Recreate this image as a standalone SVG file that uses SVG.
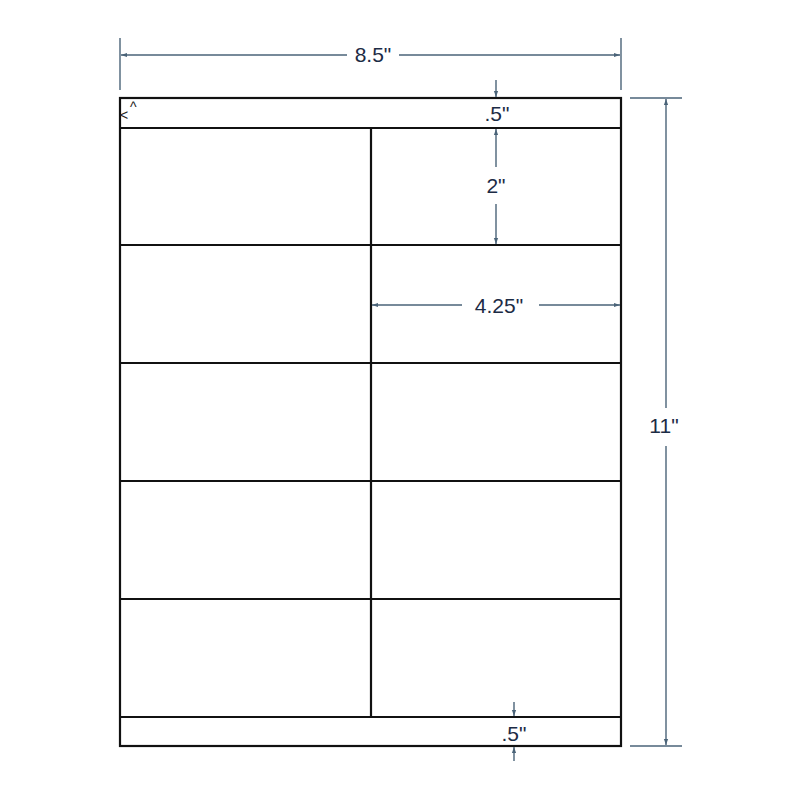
<svg xmlns="http://www.w3.org/2000/svg" width="800" height="800" viewBox="0 0 800 800">
<style>
.frame{fill:none;stroke:#111;stroke-width:2.2}
.dim{stroke:#4a6378;stroke-width:1.4;fill:none}
.lbl{font-family:"Liberation Sans",Arial,sans-serif;font-size:21px;fill:#1c2b45;text-anchor:middle}
.mark{font-family:"Liberation Sans",Arial,sans-serif;font-size:14px;fill:#222}
</style>
<defs>
<marker id="ah" viewBox="0 0 10 10" refX="10" refY="5" markerWidth="7" markerHeight="6" orient="auto-start-reverse" markerUnits="userSpaceOnUse">
<path d="M0,1.5 L10,5 L0,8.5 Z" fill="#4a6378"/>
</marker>
</defs>
<rect width="800" height="800" fill="#fff"/>
<g id="sheet">
<rect class="frame" x="120" y="98" width="501" height="648"/>
<line class="frame" x1="120" y1="128" x2="621" y2="128"/>
<line class="frame" x1="120" y1="245" x2="621" y2="245"/>
<line class="frame" x1="120" y1="363" x2="621" y2="363"/>
<line class="frame" x1="120" y1="481" x2="621" y2="481"/>
<line class="frame" x1="120" y1="599" x2="621" y2="599"/>
<line class="frame" x1="120" y1="717" x2="621" y2="717"/>
<line class="frame" x1="371" y1="128" x2="371" y2="717"/>
<text class="mark" x="130" y="112">^</text>
<text class="mark" x="120" y="120">&lt;</text>
</g>
<g id="connectors">
<line class="dim" x1="120" y1="38" x2="120" y2="90"/>
<line class="dim" x1="621" y1="38" x2="621" y2="90"/>
<line class="dim" x1="347" y1="55" x2="121" y2="55" marker-end="url(#ah)"/>
<line class="dim" x1="399" y1="55" x2="620" y2="55" marker-end="url(#ah)"/>
<line class="dim" x1="630" y1="98" x2="682" y2="98"/>
<line class="dim" x1="630" y1="746" x2="682" y2="746"/>
<line class="dim" x1="666" y1="408" x2="666" y2="99" marker-end="url(#ah)"/>
<line class="dim" x1="666" y1="446" x2="666" y2="745" marker-end="url(#ah)"/>
<line class="dim" x1="496" y1="80" x2="496" y2="97" marker-end="url(#ah)"/>
<line class="dim" x1="496" y1="167" x2="496" y2="129" marker-end="url(#ah)"/>
<line class="dim" x1="496" y1="204" x2="496" y2="244" marker-end="url(#ah)"/>
<line class="dim" x1="462" y1="305" x2="372" y2="305" marker-end="url(#ah)"/>
<line class="dim" x1="539" y1="305" x2="620" y2="305" marker-end="url(#ah)"/>
<line class="dim" x1="514" y1="702" x2="514" y2="716" marker-end="url(#ah)"/>
<line class="dim" x1="514" y1="761" x2="514" y2="747" marker-end="url(#ah)"/>
</g>
<g id="labels">
<text class="lbl" x="373" y="62">8.5"</text>
<text class="lbl" x="497" y="121">.5"</text>
<text class="lbl" x="496" y="193">2"</text>
<text class="lbl" x="499" y="313">4.25"</text>
<text class="lbl" x="664" y="433">11"</text>
<text class="lbl" x="514" y="741">.5"</text>
</g>
</svg>
